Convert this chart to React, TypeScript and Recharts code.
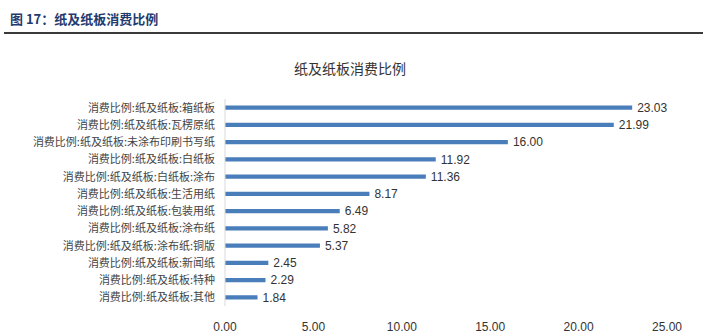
import React from "react";
import { BarChart, Bar, XAxis, YAxis, LabelList } from "recharts";

const categories = [
  "消费比例:纸及纸板:箱纸板",
  "消费比例:纸及纸板:瓦楞原纸",
  "消费比例:纸及纸板:未涂布印刷书写纸",
  "消费比例:纸及纸板:白纸板",
  "消费比例:纸及纸板:白纸板:涂布",
  "消费比例:纸及纸板:生活用纸",
  "消费比例:纸及纸板:包装用纸",
  "消费比例:纸及纸板:涂布纸",
  "消费比例:纸及纸板:涂布纸:铜版",
  "消费比例:纸及纸板:新闻纸",
  "消费比例:纸及纸板:特种",
  "消费比例:纸及纸板:其他",
];
const values = [23.03, 21.99, 16.0, 11.92, 11.36, 8.17, 6.49, 5.82, 5.37, 2.45, 2.29, 1.84];
const xTicks = [0, 5, 10, 15, 20, 25];

const data = categories.map((name, i) => ({ name, value: values[i] }));

export default function App() {
  return (
    <div style={{ position: "absolute", left: 0, top: 0, width: 720, height: 336, background: "#fff" }}>
      <div
        style={{
          position: "absolute",
          left: 10,
          top: 9,
          fontFamily: "'Noto Sans CJK SC', sans-serif",
          fontWeight: 700,
          fontSize: 13,
          color: "#1f3b70",
          whiteSpace: "nowrap",
        }}
      >
        图 17：纸及纸板消费比例
      </div>
      <div style={{ position: "absolute", left: 4, top: 32, width: 699, height: 2, background: "#3a3a3a" }} />
      <div
        style={{
          position: "absolute",
          left: 0,
          width: 700,
          top: 58,
          textAlign: "center",
          fontFamily: "'Noto Sans CJK SC', serif",
          fontSize: 14,
          color: "#333",
        }}
      >
        纸及纸板消费比例
      </div>
      <div style={{ position: "absolute", left: 0, top: 0 }}>
        <BarChart
          width={720}
          height={336}
          data={data}
          layout="vertical"
          margin={{ top: 99, right: 53, bottom: 0, left: 0 }}
          barCategoryGap="62%"
        >
          <XAxis
            type="number"
            domain={[0, 25]}
            ticks={xTicks}
            axisLine={false}
            tickLine={false}
            height={30}
            tickMargin={10}
            tickFormatter={(v: number) => v.toFixed(2)}
            tick={{ fontSize: 12, fill: "#333", fontFamily: "'Liberation Sans', sans-serif" }}
          />
          <YAxis
            type="category"
            dataKey="name"
            width={225}
            tickLine={false}
            tickSize={0}
            tickMargin={10}
            axisLine={{ stroke: "#d9d9d9" }}
            interval={0}
            tick={{ fontSize: 11, fill: "#444", fontFamily: "'Noto Sans CJK SC', serif" }}
          />
          <Bar dataKey="value" fill="#4a7ebb" isAnimationActive={false}>
            <LabelList
              dataKey="value"
              position="right"
              offset={5}
              formatter={(v: number) => v.toFixed(2)}
              style={{ fontSize: 12, fill: "#333", fontFamily: "'Liberation Sans', sans-serif" }}
            />
          </Bar>
        </BarChart>
      </div>
    </div>
  );
}
